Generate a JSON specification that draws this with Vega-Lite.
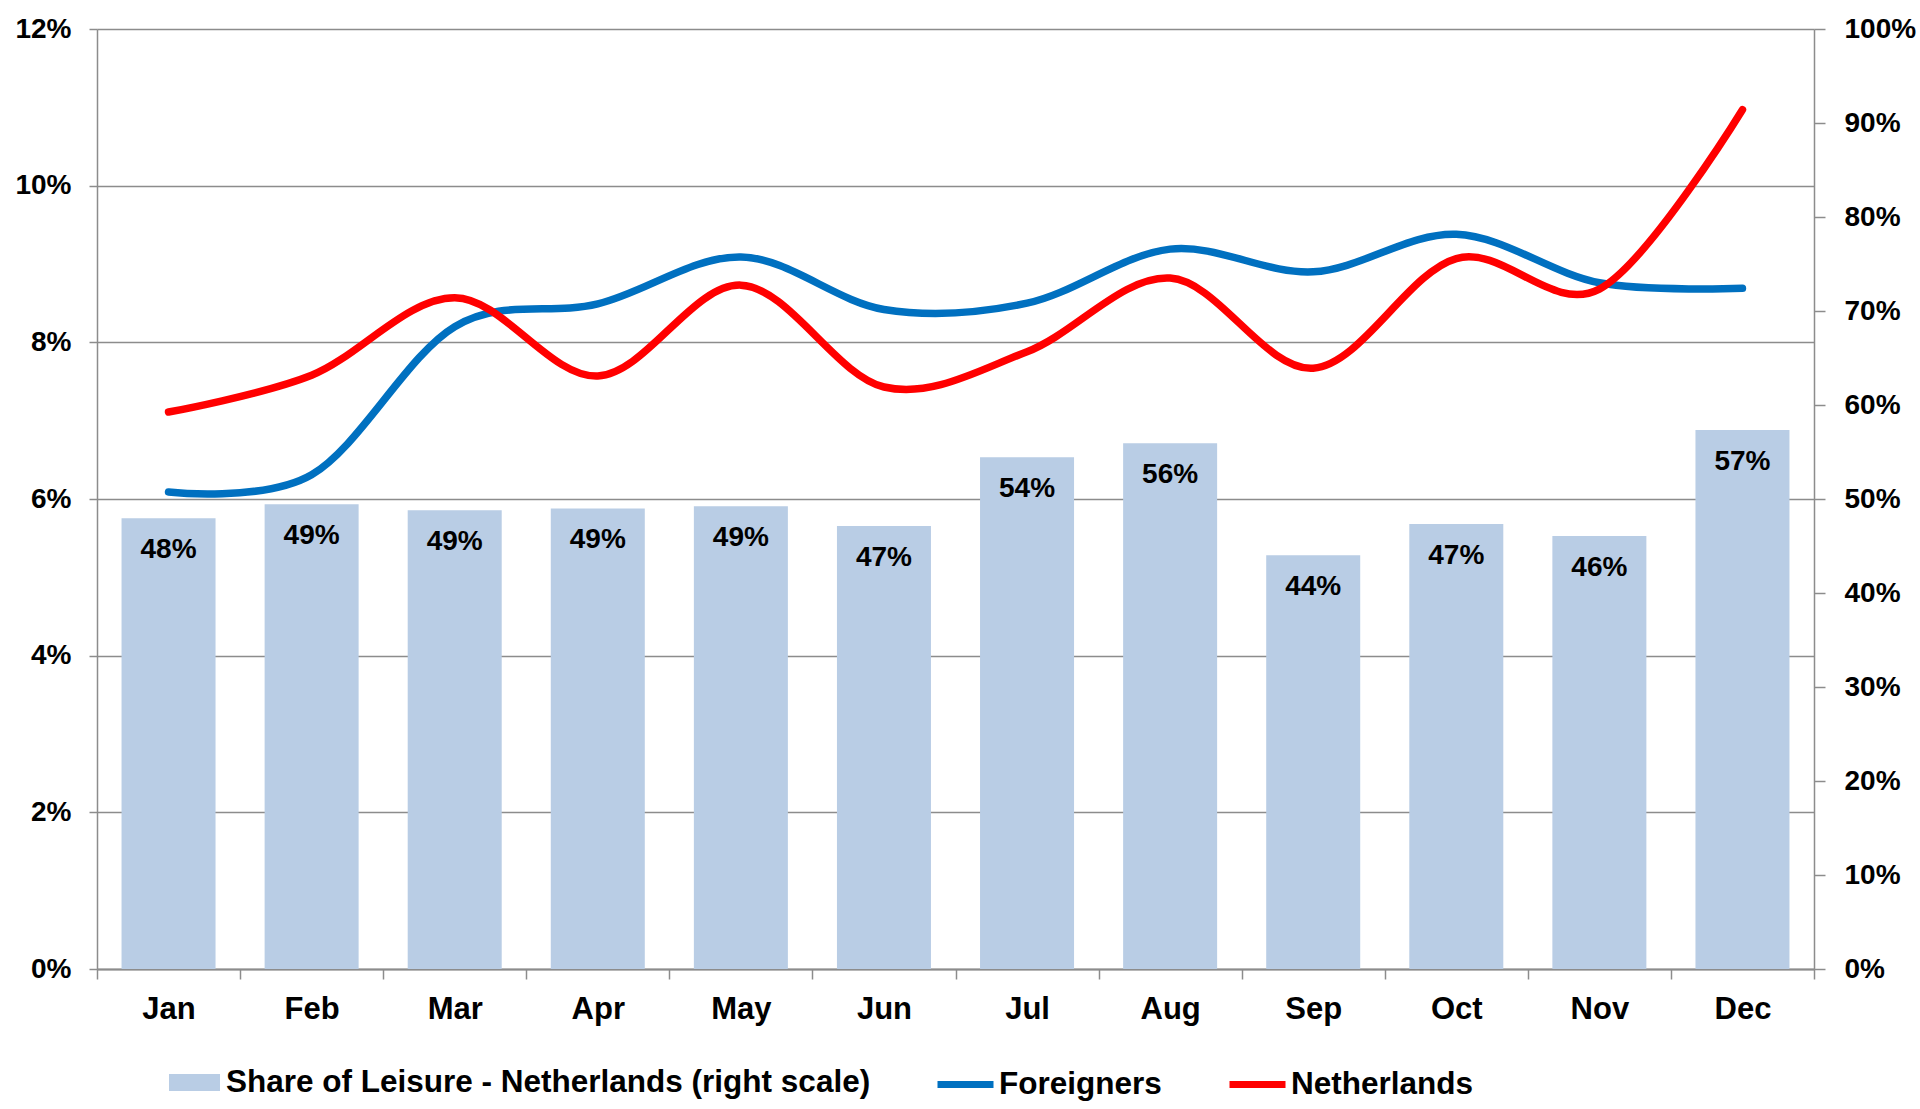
{
  "$schema": "https://vega.github.io/schema/vega-lite/v6.json",
  "width": 1717,
  "height": 940,
  "autosize": {"type": "none"},
  "padding": {"left": 97, "top": 29, "right": 106, "bottom": 140},
  "background": "white",
  "config": {
    "view": {"stroke": null},
    "font": "Liberation Sans",
    "axis": {
      "labelFont": "Liberation Sans",
      "labelFontWeight": "bold",
      "labelColor": "#000000",
      "domainColor": "#8c8c8c",
      "domainWidth": 1.5,
      "tickColor": "#8c8c8c",
      "tickWidth": 1.5,
      "gridColor": "#8c8c8c",
      "gridWidth": 1.5,
      "title": null
    },
    "legend": {
      "labelFont": "Liberation Sans",
      "labelFontWeight": "bold",
      "labelFontSize": 31.5,
      "labelColor": "#000000",
      "labelLimit": 1000,
      "padding": 0,
      "title": null
    }
  },
  "data": {
    "values": [
      {"month": "Jan", "share": 0.4795, "Foreigners": 0.0609, "Netherlands": 0.0711},
      {"month": "Feb", "share": 0.4943, "Foreigners": 0.0631, "Netherlands": 0.0758},
      {"month": "Mar", "share": 0.4880, "Foreigners": 0.0820, "Netherlands": 0.0857},
      {"month": "Apr", "share": 0.4900, "Foreigners": 0.0849, "Netherlands": 0.0757},
      {"month": "May", "share": 0.4922, "Foreigners": 0.0909, "Netherlands": 0.0873},
      {"month": "Jun", "share": 0.4713, "Foreigners": 0.0842, "Netherlands": 0.0743},
      {"month": "Jul", "share": 0.5443, "Foreigners": 0.0850, "Netherlands": 0.0788},
      {"month": "Aug", "share": 0.5593, "Foreigners": 0.0919, "Netherlands": 0.0882},
      {"month": "Sep", "share": 0.4401, "Foreigners": 0.0890, "Netherlands": 0.0767},
      {"month": "Oct", "share": 0.4734, "Foreigners": 0.0938, "Netherlands": 0.0907},
      {"month": "Nov", "share": 0.4606, "Foreigners": 0.0876, "Netherlands": 0.0868},
      {"month": "Dec", "share": 0.5734, "Foreigners": 0.0869, "Netherlands": 0.1097}
    ]
  },
  "layer": [
    {
      "layer": [
        {
          "mark": {"type": "bar", "width": {"band": 0.657}},
          "encoding": {
            "x": {
              "field": "month", "type": "nominal", "sort": null,
              "scale": {"paddingInner": 0, "paddingOuter": 0},
              "axis": {
                "labelAngle": 0, "labelFontSize": 31, "tickBand": "extent",
                "tickSize": 10, "labelPadding": 15, "domainWidth": 2
              }
            },
            "y": {
              "field": "share", "type": "quantitative",
              "scale": {"domain": [0, 1]},
              "axis": {
                "orient": "right", "values": [0, 0.1, 0.2, 0.3, 0.4, 0.5, 0.6, 0.7, 0.8, 0.9, 1],
                "format": ".0%", "grid": false, "labelFontSize": 28, "tickSize": 11, "labelPadding": 19
              }
            },
            "fill": {
              "datum": "Share of Leisure - Netherlands (right scale)",
              "scale": {"range": ["#B9CDE5"]},
              "legend": {
                "orient": "none", "legendX": 72, "legendY": 1028,
                "symbolType": "M-1,-0.33H1V0.33H-1Z", "symbolSize": 2601,
                "symbolStrokeWidth": 0, "labelOffset": 6
              }
            }
          }
        },
        {
          "mark": {"type": "text", "fontSize": 28, "fontWeight": "bold", "font": "Liberation Sans", "baseline": "middle", "dy": 32, "color": "#000000"},
          "encoding": {
            "x": {"field": "month", "type": "nominal", "sort": null},
            "y": {"field": "share", "type": "quantitative", "scale": {"domain": [0, 1]}},
            "text": {"field": "share", "type": "quantitative", "format": ".0%"}
          }
        }
      ]
    },
    {
      "transform": [{"fold": ["Foreigners", "Netherlands"], "as": ["series", "value"]}],
      "mark": {"type": "line", "interpolate": "cardinal", "tension": 0, "strokeWidth": 7.5, "strokeCap": "round"},
      "encoding": {
        "x": {"field": "month", "type": "nominal", "sort": null},
        "y": {
          "field": "value", "type": "quantitative",
          "scale": {"domain": [0, 0.12]},
          "axis": {
            "orient": "left", "values": [0, 0.02, 0.04, 0.06, 0.08, 0.1, 0.12],
            "format": ".0%", "grid": true, "labelFontSize": 28, "tickSize": 8, "labelPadding": 18
          }
        },
        "stroke": {
          "field": "series", "type": "nominal",
          "scale": {"domain": ["Foreigners", "Netherlands"], "range": ["#0070C0", "#FF0000"]},
          "legend": {
            "orient": "none", "direction": "horizontal", "legendX": 837, "legendY": 1024,
            "symbolType": "stroke", "symbolSize": 3136, "symbolStrokeWidth": 7,
            "labelOffset": 2, "columnPadding": 53
          }
        }
      }
    }
  ],
  "resolve": {"scale": {"y": "independent"}}
}
